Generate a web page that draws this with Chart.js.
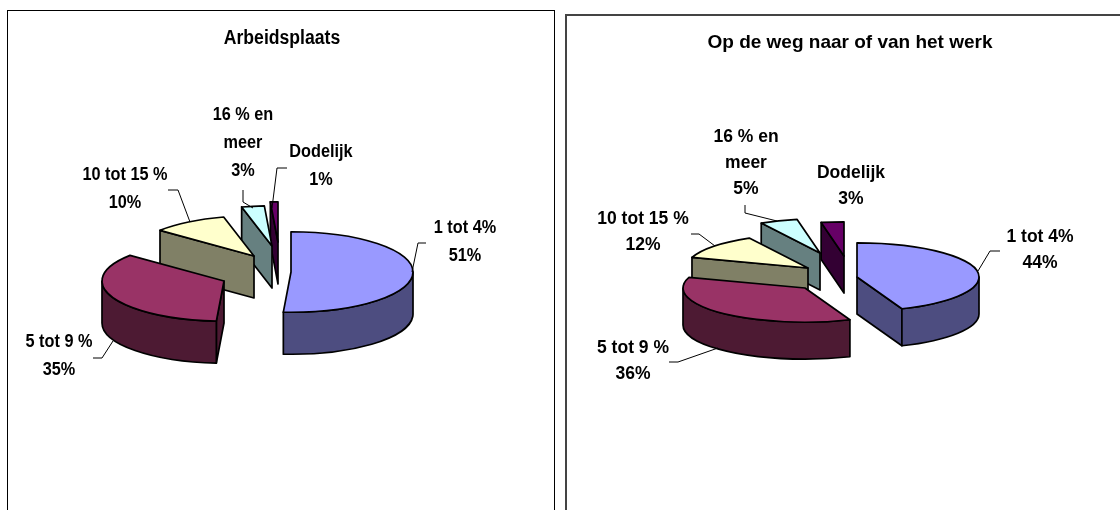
<!DOCTYPE html>
<html><head><meta charset="utf-8">
<script src="https://cdn.jsdelivr.net/npm/chart.js@4"></script>
<style>
html,body{margin:0;padding:0;background:#fff;width:1120px;height:510px;overflow:hidden}
.frame{position:absolute;box-sizing:border-box}
canvas{position:absolute;top:0}
</style></head><body>
<div class="frame" style="left:7px;top:10px;width:548px;height:520px;border:1px solid #000"></div>
<div class="frame" style="left:565px;top:14px;width:600px;height:520px;border:2px solid #444"></div>
<canvas id="a" width="560" height="510" style="left:0"></canvas>
<canvas id="b" width="560" height="510" style="left:560px"></canvas>
<script>
const categories = ["1 tot 4%", "5 tot 9 %", "10 tot 15 %", "16 % en meer", "Dodelijk"];
const valuesA = [51, 35, 10, 3, 1];
const valuesB = [44, 36, 12, 5, 3];
const titleA = "Arbeidsplaats";
const titleB = "Op de weg naar of van het werk";
const labelLines = [["1 tot 4%"], ["5 tot 9 %"], ["10 tot 15 %"], ["16 % en", "meer"], ["Dodelijk"]];
const topColors = ["#9999FF", "#993366", "#FFFFCC", "#CCFFFF", "#660066"];
const wallColors = ["#4D4D80", "#4D1A33", "#808066", "#668080", "#330033"];

const layoutA = {
  rx: 122, sy: 0.33, depth: 42, lineH: 28, fontSize: 17.5, textScale: 0.93,
  title: { x: 282, y: 38, size: 20, scale: 0.88 },
  centers: [[291,272],[224,281],[254,256],[272,246],[278,242]],
  labels: [[465,228],[59,342],[125,175],[243,115],[321,152]],
  leaders: [
    [[412,272],[418,243],[426,243]],
    [[113,341],[102,358],[93,358]],
    [[190,222],[178,190],[168,190]],
    [[253,208],[243,202],[243,190]],
    [[272,208],[277,168],[287,168]]
  ]
};
const layoutB = {
  rx: 122, sy: 0.28, depth: 37, lineH: 26, fontSize: 17.5, textScale: 1,
  title: { x: 290, y: 43, size: 19, scale: 1 },
  centers: [[297,277],[245,288],[248,268],[260,253],[284,256]],
  labels: [[480,237],[73,348],[83,219],[186,137],[291,173]],
  leaders: [
    [[418,271],[430,251],[440,251]],
    [[158,348],[118,362],[109,362]],
    [[155,246],[139,234],[131,234]],
    [[217,221],[185,213],[185,205]],
    null
  ]
};

const FAMILY = '"Liberation Sans", Arial, sans-serif';
function text(ctx, str, x, y, size, sx) {
  ctx.save();
  ctx.font = 'bold ' + size + 'px ' + FAMILY;
  ctx.textAlign = 'center';
  ctx.textBaseline = 'middle';
  ctx.fillStyle = '#000';
  ctx.translate(x, y);
  ctx.scale(sx, 1);
  ctx.fillText(str, 0, 0);
  ctx.restore();
}

const pie3d = {
  id: 'pie3d',
  beforeDatasetsDraw(chart, args, opts) {
    const ctx = chart.ctx, L = opts.layout;
    const arcs = chart.getDatasetMeta(0).data;
    const d = L.depth, rx = L.rx, ry = rx * L.sy;
    ctx.lineWidth = 1.7;
    ctx.strokeStyle = '#000';
    ctx.lineJoin = 'round';
    for (let i = arcs.length - 1; i >= 0; i--) {
      const arc = arcs[i];
      const [cx, cy] = L.centers[i];
      const a0 = arc.startAngle, a1 = arc.endAngle;
      const px = a => cx + rx * Math.cos(a), py = a => cy + ry * Math.sin(a);
      const wall = wallColors[i];
      const face = a => {
        ctx.beginPath();
        ctx.moveTo(cx, cy); ctx.lineTo(px(a), py(a));
        ctx.lineTo(px(a), py(a) + d); ctx.lineTo(cx, cy + d);
        ctx.closePath();
        ctx.fillStyle = wall; ctx.fill(); ctx.stroke();
      };
      if (Math.sin(a0 - Math.PI / 2) > 0) face(a0);
      if (Math.sin(a1 + Math.PI / 2) > 0) face(a1);
      const lo = Math.max(a0, 0), hi = Math.min(a1, Math.PI);
      if (hi > lo) {
        ctx.beginPath();
        ctx.ellipse(cx, cy, rx, ry, 0, lo, hi);
        ctx.lineTo(px(hi), py(hi) + d);
        ctx.ellipse(cx, cy + d, rx, ry, 0, hi, lo, true);
        ctx.closePath();
        ctx.fillStyle = wall; ctx.fill(); ctx.stroke();
      }
      ctx.save();
      const k = rx / arc.outerRadius;
      ctx.translate(cx, cy);
      ctx.scale(k, k * L.sy);
      ctx.translate(-arc.x, -arc.y);
      arc.draw(ctx);
      ctx.restore();
      ctx.beginPath();
      ctx.moveTo(cx, cy); ctx.lineTo(px(a0), py(a0));
      ctx.ellipse(cx, cy, rx, ry, 0, a0, a1);
      ctx.closePath();
      ctx.stroke();
    }
    ctx.lineWidth = 1;
    L.leaders.forEach(pts => {
      if (!pts) return;
      ctx.beginPath();
      pts.forEach((p, j) => j ? ctx.lineTo(p[0], p[1]) : ctx.moveTo(p[0], p[1]));
      ctx.stroke();
    });
    const vals = chart.data.datasets[0].data;
    L.labels.forEach((p, i) => {
      const lines = labelLines[i].concat([vals[i] + '%']);
      lines.forEach((t, j) => text(ctx, t, p[0], p[1] + j * L.lineH, L.fontSize, L.textScale));
    });
    const T = L.title;
    text(ctx, opts.titleText, T.x, T.y, T.size, T.scale);
    return false;
  }
};

function build(id, values, title, L) {
  new Chart(document.getElementById(id), {
    type: 'pie',
    data: { labels: categories, datasets: [{ data: values, backgroundColor: topColors, borderWidth: 0 }] },
    options: {
      responsive: false,
      animation: false,
      events: [],
      plugins: {
        legend: { display: false },
        tooltip: { enabled: false },
        title: { display: false },
        pie3d: { layout: L, titleText: title }
      }
    },
    plugins: [pie3d]
  });
}
build('a', valuesA, titleA, layoutA);
build('b', valuesB, titleB, layoutB);
</script>
</body></html>
